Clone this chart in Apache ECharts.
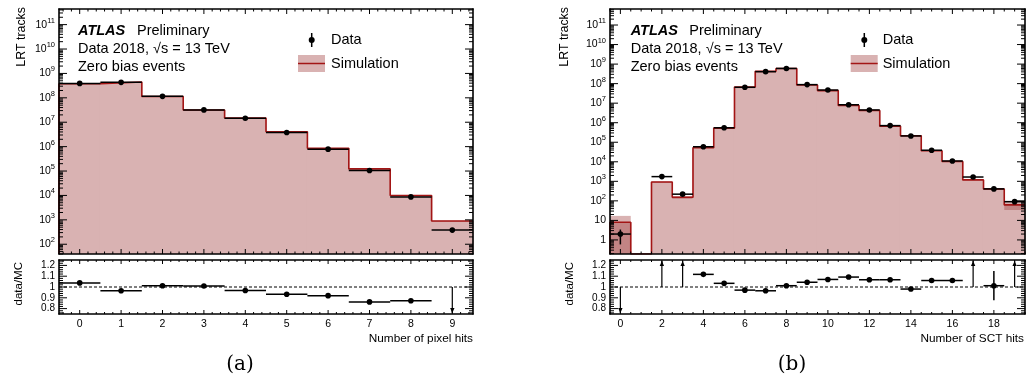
<!DOCTYPE html>
<html><head><meta charset="utf-8">
<script src="https://cdn.jsdelivr.net/npm/echarts@6/dist/echarts.min.js"></script>
<style>html,body{margin:0;padding:0;background:#fff}#c{width:1026px;height:386px}</style>
</head><body><div id="c"></div>
<script>
// ---------------- data ----------------
const pixelBins = [0, 1, 2, 3, 4, 5, 6, 7, 8, 9];
const pixelData = [3.9e8, 4.3e8, 1.15e8, 3.2e7, 1.45e7, 3.8e6, 7.9e5, 1.05e5, 8.7e3, 380];
const pixelDataErr = [2.0e4, 2.1e4, 1.1e4, 5.7e3, 3.8e3, 1.9e3, 890, 324, 93, 19];
const pixelMC = [3.75e8, 4.45e8, 1.135e8, 3.17e7, 1.5e7, 4.07e6, 8.6e5, 1.22e5, 1.0e4, 890];
const pixelMCErr = [1.5e6, 1.8e6, 5e5, 1.5e5, 8e4, 2.5e4, 6e3, 1.2e3, 150, 30];
const pixelRatio = [1.038, 0.965, 1.012, 1.009, 0.968, 0.933, 0.92, 0.862, 0.872, 0.43];
const pixelRatioErr = [0.002, 0.002, 0.002, 0.002, 0.002, 0.002, 0.003, 0.004, 0.012, 0.03];

const sctBins = [0, 1, 2, 3, 4, 5, 6, 7, 8, 9, 10, 11, 12, 13, 14, 15, 16, 17, 18, 19];
const sctData = [2, null, 1740, 220, 5.9e4, 5.5e5, 6.5e7, 4.1e8, 6.0e8, 8.9e7, 4.7e7, 8.3e6, 4.5e6, 7.1e5, 2.1e5, 3.9e4, 1.1e4, 1660, 410, 91];
const sctDataErr = [1.41, null, 42, 15, 243, 740, 8e3, 2e4, 2.4e4, 9.4e3, 6.9e3, 2.9e3, 2.1e3, 840, 460, 200, 105, 41, 20, 9.5];
const sctMC = [8, null, 915, 152, 5.3e4, 5.3e5, 6.7e7, 4.25e8, 5.9e8, 8.5e7, 4.4e7, 7.6e6, 4.2e6, 6.65e5, 2.14e5, 3.7e4, 1.04e4, 1180, 405, 62];
const sctMCErr = [9, null, 60, 25, 800, 5e3, 5e5, 3e6, 4e6, 7e5, 4e5, 7e4, 4e4, 8e3, 3e3, 600, 250, 60, 40, 28];
const sctRatio = [0.25, null, 1.9, 1.45, 1.117, 1.034, 0.971, 0.965, 1.012, 1.044, 1.07, 1.092, 1.067, 1.067, 0.981, 1.06, 1.06, 1.41, 1.012, 1.48];
const sctRatioErr = [0.2, null, 0.1, 0.15, 0.006, 0.003, 0.002, 0.002, 0.002, 0.002, 0.002, 0.002, 0.002, 0.003, 0.004, 0.008, 0.015, 0.05, 0.135, 0.2];

// tick labels
const pixelXLabels = [0, 1, 2, 3, 4, 5, 6, 7, 8, 9];
const sctXLabels = [0, 2, 4, 6, 8, 10, 12, 14, 16, 18];
const pixelYDecades = [2, 3, 4, 5, 6, 7, 8, 9, 10, 11];
const sctYDecades = [0, 1, 2, 3, 4, 5, 6, 7, 8, 9, 10, 11];
const ratioYLabels = [0.8, 0.9, 1, 1.1, 1.2];

// ---------------- styling / layout ----------------
const FONT = '"Liberation Sans", Arial, Helvetica, sans-serif';
const FILL = '#d9b2b2';
const BAND = 'rgba(160,62,62,0.40)';
const MCLINE = '#a31515';
const PIX_X = [-0.5, 9.5], SCT_X = [-0.5, 19.5];
const PIX_Y = [1.6, 11.64], SCT_Y = [-0.72, 11.82], R_Y = [0.75, 1.25];

const grids = [
  {left: 59, top: 9, width: 414, height: 245},
  {left: 59, top: 260, width: 414, height: 54},
  {left: 610, top: 9, width: 415, height: 245},
  {left: 610, top: 260, width: 415, height: 54}
];

const lg = v => Math.log10(v);
const r6 = v => Math.round(v * 1e6) / 1e6;

function stepMinors(min, max, step, majorStep) {
  const out = [];
  for (let k = Math.ceil(min / step - 1e-9); k <= Math.floor(max / step + 1e-9); k++) {
    const v = r6(k * step);
    if (Math.abs(v / majorStep - Math.round(v / majorStep)) < 1e-6) continue;
    out.push(v);
  }
  return out;
}
function logMinors(min, max) {
  const out = [];
  for (let d = Math.floor(min); d <= Math.ceil(max); d++) {
    for (let k = 2; k <= 9; k++) {
      const v = r6(d + lg(k));
      if (v > min && v < max) out.push(v);
    }
  }
  return out;
}
function intMajors(min, max, step) {
  const out = [];
  for (let k = Math.ceil(min / step); k <= Math.floor(max / step); k++) out.push(r6(k * step));
  return out;
}

function baseAxis(g, pos, range) {
  return {
    type: 'value', gridIndex: g, position: pos, min: range[0], max: range[1], z: 10,
    axisLine: {show: true, onZero: false, lineStyle: {color: '#000', width: 1.6}},
    axisTick: {show: false},
    axisLabel: {show: false},
    splitLine: {show: false}
  };
}
function xAxes(g, range, label) {
  const a = baseAxis(g, 'bottom', range);
  if (label) a.axisLabel = Object.assign({show: true, margin: 5, color: '#000', fontFamily: FONT, fontSize: 10.5}, label);
  return [a, baseAxis(g, 'top', range)];
}
function yAxes(g, range, label) {
  const a = baseAxis(g, 'left', range);
  a.axisLabel = Object.assign({show: true, margin: 4, color: '#000', fontFamily: FONT, fontSize: 10.5}, label);
  return [a, baseAxis(g, 'right', range)];
}

const powLabel = {
  formatter: v => {
    const d = Math.round(v);
    if (d === 0) return '{b|1}';
    if (d === 1) return '{b|10}';
    return '{b|10}{s|' + d + '}';
  },
  rich: {
    b: {fontSize: 10.5, fontFamily: FONT, color: '#000', lineHeight: 16, verticalAlign: 'middle'},
    s: {fontSize: 7.5, fontFamily: FONT, color: '#000', lineHeight: 7, verticalAlign: 'top'}
  }
};
const ratioLabel = {customValues: ratioYLabels, fontSize: 10, formatter: v => (Math.abs(v - 1) < 1e-6 ? '1' : v.toFixed(1))};

const xAxisList = [].concat(
  xAxes(0, PIX_X, null),
  xAxes(1, PIX_X, {customValues: pixelXLabels}),
  xAxes(2, SCT_X, null),
  xAxes(3, SCT_X, {customValues: sctXLabels})
);
const yAxisList = [].concat(
  yAxes(0, PIX_Y, Object.assign({customValues: pixelYDecades}, powLabel)),
  yAxes(1, R_Y, ratioLabel),
  yAxes(2, SCT_Y, Object.assign({customValues: sctYDecades}, powLabel)),
  yAxes(3, R_Y, ratioLabel)
);

// ---------------- series builders ----------------
function tickSeries(g, xr, yr, xMaj, xMin, yMaj, yMin, xl, yl) {
  return {
    type: 'custom', xAxisIndex: 2 * g, yAxisIndex: 2 * g, z: 8, silent: true, clip: false,
    data: [[(xr[0] + xr[1]) / 2, (yr[0] + yr[1]) / 2]],
    renderItem: (params, api) => {
      const ch = [];
      const L = (x1, y1, x2, y2) => ch.push({type: 'line', shape: {x1: x1, y1: y1, x2: x2, y2: y2}, style: {stroke: '#000', lineWidth: 1}});
      const xt = (vals, len) => vals.forEach(v => {
        const b = api.coord([v, yr[0]]), t = api.coord([v, yr[1]]);
        L(b[0], b[1], b[0], b[1] - len); L(t[0], t[1], t[0], t[1] + len);
      });
      const yt = (vals, len) => vals.forEach(v => {
        const l = api.coord([xr[0], v]), r = api.coord([xr[1], v]);
        L(l[0], l[1], l[0] + len, l[1]); L(r[0], r[1], r[0] - len, r[1]);
      });
      xt(xMaj, xl[0]); xt(xMin, xl[1]); yt(yMaj, yl[0]); yt(yMin, yl[1]);
      return {type: 'group', children: ch};
    }
  };
}
function mcFillSeries(g, bins, mc, err, yRange) {
  const data = [];
  bins.forEach((b, i) => { if (mc[i] != null) data.push([b, mc[i], err[i]]); });
  return {
    type: 'custom', xAxisIndex: 2 * g, yAxisIndex: 2 * g, z: 1, silent: true,
    data: data,
    renderItem: (params, api) => {
      const x = api.value(0), v = api.value(1), e = api.value(2);
      const top = api.coord([x - 0.5, lg(v)]);
      const bot = api.coord([x + 0.5, yRange[0]]);
      const hi = api.coord([x - 0.5, Math.min(lg(v + e), yRange[1])]);
      const loVal = v - e > 0 ? Math.max(lg(v - e), yRange[0]) : yRange[0];
      const lo = api.coord([x + 0.5, loVal]);
      return {type: 'group', children: [
        {type: 'rect', shape: {x: top[0] - 0.6, y: top[1], width: bot[0] - top[0] + 1.2, height: bot[1] - top[1]}, style: {fill: FILL}},
        {type: 'rect', shape: {x: hi[0], y: hi[1], width: lo[0] - hi[0], height: lo[1] - hi[1]}, style: {fill: BAND}}
      ]};
    }
  };
}
function mcLineSeries(g, bins, mc, yRange) {
  const val = i => (mc[i] == null ? yRange[0] : lg(mc[i]));
  const pts = [[bins[0] - 0.5, yRange[0]]];
  bins.forEach((b, i) => pts.push([b - 0.5, val(i)]));
  pts.push([bins[bins.length - 1] + 0.5, val(bins.length - 1)]);
  return {
    type: 'line', xAxisIndex: 2 * g, yAxisIndex: 2 * g, z: 3, step: 'end', silent: true,
    showSymbol: false, symbol: 'none', animation: false,
    lineStyle: {color: MCLINE, width: 1.6}, data: pts
  };
}
function dataSeries(g, bins, d, err, yRange) {
  const data = [];
  bins.forEach((b, i) => { if (d[i] != null) data.push([b, d[i], err[i]]); });
  return {
    type: 'custom', xAxisIndex: 2 * g, yAxisIndex: 2 * g, z: 5, silent: true,
    data: data,
    renderItem: (params, api) => {
      const x = api.value(0), v = api.value(1), e = api.value(2);
      const pL = api.coord([x - 0.5, lg(v)]), pR = api.coord([x + 0.5, lg(v)]);
      const up = api.coord([x, Math.min(lg(v + e), yRange[1])]);
      const dn = api.coord([x, v - e > 0 ? Math.max(lg(v - e), yRange[0]) : yRange[0]]);
      const c = api.coord([x, lg(v)]);
      return {type: 'group', children: [
        {type: 'line', shape: {x1: pL[0], y1: pL[1], x2: pR[0], y2: pR[1]}, style: {stroke: '#000', lineWidth: 1.5}},
        {type: 'line', shape: {x1: up[0], y1: up[1], x2: dn[0], y2: dn[1]}, style: {stroke: '#000', lineWidth: 1.5}},
        {type: 'circle', shape: {cx: c[0], cy: c[1], r: 2.8}, style: {fill: '#000'}}
      ]};
    }
  };
}
function ratioSeries(g, bins, r, err) {
  const data = [];
  bins.forEach((b, i) => { if (r[i] != null) data.push([b, r[i], err[i]]); });
  return {
    type: 'custom', xAxisIndex: 2 * g, yAxisIndex: 2 * g, z: 5, silent: true,
    data: data,
    renderItem: (params, api) => {
      const x = api.value(0), v = api.value(1), e = api.value(2);
      const c1 = api.coord([x, 1]);
      if (v > R_Y[1] || v < R_Y[0]) {
        const upDir = v > R_Y[1];
        const edge = api.coord([x, upDir ? R_Y[1] : R_Y[0]]);
        const tip = edge[1] + (upDir ? 1 : -1);
        const base = tip + (upDir ? 5 : -5);
        return {type: 'group', children: [
          {type: 'line', shape: {x1: c1[0], y1: c1[1], x2: edge[0], y2: tip}, style: {stroke: '#000', lineWidth: 1.2}},
          {type: 'polygon', shape: {points: [[edge[0], tip], [edge[0] - 2.2, base], [edge[0] + 2.2, base]]}, style: {fill: '#000'}}
        ]};
      }
      const pL = api.coord([x - 0.5, v]), pR = api.coord([x + 0.5, v]);
      const up = api.coord([x, Math.min(v + e, R_Y[1])]), dn = api.coord([x, Math.max(v - e, R_Y[0])]);
      const c = api.coord([x, v]);
      return {type: 'group', children: [
        {type: 'line', shape: {x1: pL[0], y1: pL[1], x2: pR[0], y2: pR[1]}, style: {stroke: '#000', lineWidth: 1.5}},
        {type: 'line', shape: {x1: up[0], y1: up[1], x2: dn[0], y2: dn[1]}, style: {stroke: '#000', lineWidth: 1.5}},
        {type: 'circle', shape: {cx: c[0], cy: c[1], r: 2.8}, style: {fill: '#000'}}
      ]};
    }
  };
}
function unityLine(g, xr) {
  return {
    type: 'line', xAxisIndex: 2 * g, yAxisIndex: 2 * g, z: 2, silent: true, symbol: 'none', animation: false,
    lineStyle: {color: '#000', width: 1, type: [3, 2]}, data: [[xr[0], 1], [xr[1], 1]]
  };
}

const series = [
  mcFillSeries(0, pixelBins, pixelMC, pixelMCErr, PIX_Y),
  mcLineSeries(0, pixelBins, pixelMC, PIX_Y),
  dataSeries(0, pixelBins, pixelData, pixelDataErr, PIX_Y),
  unityLine(1, PIX_X),
  ratioSeries(1, pixelBins, pixelRatio, pixelRatioErr),
  mcFillSeries(2, sctBins, sctMC, sctMCErr, SCT_Y),
  mcLineSeries(2, sctBins, sctMC, SCT_Y),
  dataSeries(2, sctBins, sctData, sctDataErr, SCT_Y),
  unityLine(3, SCT_X),
  ratioSeries(3, sctBins, sctRatio, sctRatioErr),
  tickSeries(0, PIX_X, PIX_Y, pixelXLabels, stepMinors(PIX_X[0], PIX_X[1], 0.2, 1),
             intMajors(PIX_Y[0], PIX_Y[1], 1), logMinors(PIX_Y[0], PIX_Y[1]), [5, 2.5], [8, 4]),
  tickSeries(1, PIX_X, R_Y, pixelXLabels, stepMinors(PIX_X[0], PIX_X[1], 0.2, 1),
             ratioYLabels, stepMinors(R_Y[0], R_Y[1], 0.02, 0.1), [4, 2], [8, 4]),
  tickSeries(2, SCT_X, SCT_Y, sctXLabels, stepMinors(SCT_X[0], SCT_X[1], 0.5, 2),
             intMajors(SCT_Y[0], SCT_Y[1], 1), logMinors(SCT_Y[0], SCT_Y[1]), [5, 2.5], [8, 4]),
  tickSeries(3, SCT_X, R_Y, sctXLabels, stepMinors(SCT_X[0], SCT_X[1], 0.5, 2),
             ratioYLabels, stepMinors(R_Y[0], R_Y[1], 0.02, 0.1), [4, 2], [8, 4])
];

// ---------------- text & legends ----------------
function txt(x, y, text, font, align, extra) {
  return Object.assign({type: 'text', x: x, y: y, z: 20, silent: true,
    style: {text: text, font: font, fill: '#000', align: align || 'left', verticalAlign: 'middle',
            textAlign: align || 'left', textVerticalAlign: 'middle'}}, extra || {});
}
const F14 = '14.5px ' + FONT;
function panelTexts(xAtlas, xPrelim, legDot, legText, legBox) {
  return [
    txt(xAtlas, 31, 'ATLAS', 'italic bold 14.5px ' + FONT),
    txt(xPrelim, 31, 'Preliminary', F14),
    txt(xAtlas, 49, 'Data 2018, √s = 13 TeV', F14),
    txt(xAtlas, 67, 'Zero bias events', F14),
    {type: 'line', z: 20, silent: true, shape: {x1: legDot, y1: 33, x2: legDot, y2: 47}, style: {stroke: '#000', lineWidth: 1.5}},
    {type: 'circle', z: 20, silent: true, shape: {cx: legDot, cy: 40, r: 3}, style: {fill: '#000'}},
    txt(legText, 40, 'Data', F14),
    {type: 'rect', z: 20, silent: true, shape: {x: legBox, y: 55, width: 27, height: 17}, style: {fill: FILL}},
    {type: 'line', z: 21, silent: true, shape: {x1: legBox, y1: 63.5, x2: legBox + 27, y2: 63.5}, style: {stroke: MCLINE, lineWidth: 1.5}},
    txt(legText, 63.5, 'Simulation', F14)
  ];
}
const rot = {rotation: Math.PI / 2};
const graphics = [].concat(
  panelTexts(78, 137, 311.7, 331, 298),
  panelTexts(630.7, 689.3, 864.3, 882.7, 850.7),
  [
    txt(22, 7, 'LRT tracks', '12.4px ' + FONT, 'right', rot),
    txt(565, 7, 'LRT tracks', '12.4px ' + FONT, 'right', rot),
    txt(18.5, 262, 'data/MC', '11.5px ' + FONT, 'right', rot),
    txt(570, 262, 'data/MC', '11.5px ' + FONT, 'right', rot),
    txt(473, 339, 'Number of pixel hits', '11.8px ' + FONT, 'right'),
    txt(1024, 339, 'Number of SCT hits', '11.8px ' + FONT, 'right'),
    txt(240, 365, '(a)', '20px "DejaVu Serif", serif', 'center'),
    txt(792, 365, '(b)', '20px "DejaVu Serif", serif', 'center')
  ]
);

const chart = echarts.init(document.getElementById('c'), null, {renderer: 'canvas'});
chart.setOption({
  animation: false,
  backgroundColor: '#fff',
  grid: grids,
  xAxis: xAxisList,
  yAxis: yAxisList,
  series: series,
  graphic: graphics
});
</script></body></html>
